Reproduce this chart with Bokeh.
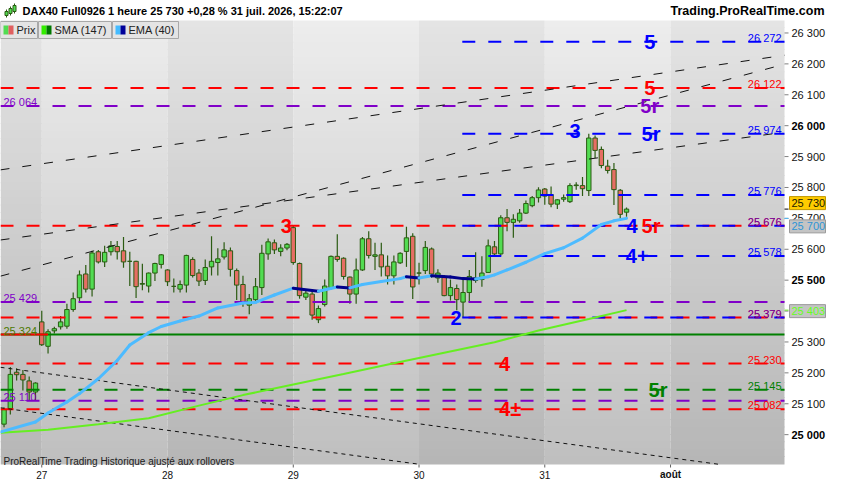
import numpy as np
from bokeh.plotting import figure
from bokeh.models import Range1d, ColumnDataSource
from bokeh.embed import file_html
from bokeh.resources import INLINE
from bokeh.core.properties import value

# ---------------- data ----------------
opens  = [25034,25083,25202,25195,25174,25138,25365,25286,25336,25349,
          25351,25405,25443,25520,25471,25592,25559,25592,25609,25595,
          25561,25561,25487,25481,25523,25551,25533,25480,25471,25484,
          25567,25523,25499,25543,25557,25575,25595,25531,25486,25419,
          25437,25476,25585,25621,25593,25604,25670,25554,25445,25455,
          25372,25421,25476,25577,25571,25510,25455,25533,25634,25577,
          25582,25545,25514,25556,25593,25642,25523,25531,25601,25507,
          25510,25450,25473,25429,25460,25499,25502,25525,25608,25585,
          25702,25687,25692,25717,25741,25767,25795,25777,25746,25762,
          25754,25806,25806,25790,25960,25923,25869,25858,25791,25720]
highs  = [25088,25219,25215,25209,25188,25170,25401,25341,25349,25384,
          25424,25460,25531,25549,25595,25598,25611,25627,25627,25640,
          25592,25563,25553,25525,25556,25585,25535,25505,25499,25582,
          25574,25536,25567,25642,25603,25623,25606,25538,25514,25455,
          25507,25615,25635,25632,25616,25620,25676,25557,25471,25471,
          25418,25502,25580,25649,25574,25512,25570,25640,25658,25621,
          25621,25580,25580,25590,25673,25652,25556,25627,25606,25535,
          25517,25502,25486,25502,25533,25590,25577,25632,25627,25710,
          25730,25713,25730,25758,25772,25801,25798,25803,25762,25777,
          25814,25817,25834,25974,25968,25933,25890,25879,25795,25735]
lows   = [25024,25065,25175,25143,25110,25111,25287,25263,25327,25340,
          25343,25398,25432,25460,25447,25554,25543,25580,25567,25540,
          25481,25442,25467,25460,25497,25538,25481,25460,25460,25460,
          25509,25481,25484,25515,25515,25567,25512,25436,25414,25390,
          25424,25452,25566,25585,25577,25597,25550,25440,25436,25372,
          25361,25415,25470,25560,25502,25424,25424,25530,25570,25533,
          25512,25486,25486,25552,25543,25439,25486,25520,25507,25492,
          25448,25434,25403,25379,25429,25492,25479,25523,25577,25580,
          25658,25637,25686,25714,25736,25751,25744,25736,25730,25754,
          25750,25793,25772,25772,25895,25862,25845,25743,25694,25705]
closes = [25081,25195,25194,25177,25138,25167,25291,25333,25343,25365,
          25405,25440,25517,25471,25588,25559,25590,25611,25592,25559,
          25561,25479,25489,25523,25554,25582,25495,25480,25486,25580,
          25515,25497,25541,25561,25569,25598,25535,25484,25427,25440,
          25479,25587,25624,25598,25604,25616,25557,25450,25458,25387,
          25408,25481,25577,25567,25512,25455,25533,25634,25580,25582,
          25543,25514,25559,25587,25637,25478,25523,25606,25520,25523,
          25450,25476,25437,25460,25512,25507,25523,25611,25585,25702,
          25687,25697,25717,25748,25767,25792,25772,25746,25760,25767,
          25806,25808,25796,25960,25920,25871,25855,25793,25713,25730]

day_ticks  = [6, 26, 46, 66, 86, 106]
day_labels = ["27", "28", "29", "30", "31", "août"]
price_ticks = [25000, 25100, 25200, 25300, 25400, 25500, 25600,
               25700, 25800, 25900, 26000, 26100, 26200, 26300]
bold_ticks = [25000, 25500, 26000]

sma_x = [-0.5, 7, 15, 23, 31, 38, 46, 54, 62, 70, 78, 85, 93, 99]
sma_y = [25006, 25016, 25034, 25053, 25094, 25128, 25162, 25196, 25231,
         25265, 25299, 25337, 25374, 25403]

ema_x = [-0.5, 5, 7, 10, 12, 15, 18, 20, 23, 25, 28, 31, 34, 38, 40, 43, 46,
         50, 53, 55, 57, 60, 63, 64, 66, 68, 71, 73, 75, 77, 78, 80, 83, 86,
         89, 92, 95, 97, 99]
ema_y = [25009, 25041, 25070, 25106, 25133, 25181, 25240, 25290, 25330, 25350,
         25368, 25384, 25410, 25426, 25428, 25452, 25474, 25464, 25478, 25475,
         25486, 25496, 25505, 25511, 25507, 25514, 25510, 25505, 25504, 25511,
         25517, 25533, 25558, 25586, 25605, 25636, 25680, 25692, 25700]

blue_levels   = [26272, 25974, 25776, 25676, 25578, 25379]
red_levels    = [26122, 25676, 25379, 25230, 25082]
purple_levels = [26064, 25429, 25110]
green_levels  = [25145]
support_level = 25324
gap_end_index = 7
pivot_low_index = 73

# dashed trend lines: start (index, value) -> end (index, value)
trend_x0 = [-0.5625, -0.5625, -0.5625, -0.5625, -0.5625]
trend_v0 = [25857, 25513, 25630, 25218, 25087]
trend_x1 = [124.125, 124.125, 124.125, 113.7, 66.1]
trend_v1 = [26228, 26199, 25979, 24904, 24904]
trend_kind = ["long", "long", "long", "short", "short"]

proj_text  = ["5", "5", "5r", "5r", "4", "5r", "4+", "4", "4±", "5r", "3", "2", "3"]
proj_level = [26272, 26122, 26064, 25974, 25676, 25676, 25578, 25230, 25082, 25145,
              25982, 25377, 25675]
proj_x     = [102.7, 102.7, 102.7, 102.9, 99.9, 102.9, 100.7, 79.6, 80.5, 104.0,
              90.8, 71.9, 44.9]
proj_kind  = ["blue", "red", "purple", "blue", "blue", "red", "blue", "red", "red",
              "green", "blue", "blue", "red"]

last_price = 25730
ema_last = 25700
sma_last = 25403

# ---------------- styles / layout ----------------
FONT = "Liberation Sans"
BLUE, RED, PURPLE, GREEN = "#0000ff", "#ff0000", "#8000c8", "#008000"
KIND = {"blue": BLUE, "red": RED, "purple": PURPLE, "green": GREEN}
BULL, BEAR, WICK = "#52dc52", "#e66e64", "#2b5b12"
EMA_LIGHT, EMA_DARK = "#4dbbff", "#00008b"
SMA_COL = "#66ee22"

TOP_H, BOT_H = 20, 20
W_FRAME, H_FRAME = 784, 444          # price area
RIGHT_W = 50                          # price-scale column
W = W_FRAME + RIGHT_W
H = TOP_H + H_FRAME + BOT_H
X_MIN, X_MAX = -0.5625, 124.125
Y_MIN, Y_MAX = 24903.4, 26340.4
PPX = W_FRAME / (X_MAX - X_MIN)
PPV = H_FRAME / (Y_MAX - Y_MIN)
Y_TOP = Y_MAX + TOP_H / PPV

def fx(px):            # canvas px from the left -> data x
    return X_MIN + px / PPX

def fy(py):            # canvas px from the top -> data y
    return Y_TOP - py / PPV

def fmt(v):
    return f"{v:,}".replace(",", " ")

p = figure(width=W, height=H,
           x_range=Range1d(X_MIN, X_MAX + RIGHT_W / PPX),
           y_range=Range1d(Y_MIN - BOT_H / PPV, Y_TOP),
           x_axis_location=None, y_axis_location=None,
           output_backend="svg", toolbar_location=None, min_border=0)
p.grid.visible = False
p.outline_line_color = None
p.background_fill_color = "white"
p.border_fill_color = "white"

def add_text(xs, ys, texts, color, align, size="11px", bold=False, alpha=1.0, baseline="alphabetic"):
    p.text(x=xs, y=ys, text=texts, text_color=color, text_alpha=alpha,
           text_font=value(FONT), text_font_size=value(size),
           text_font_style=value("bold" if bold else "normal"),
           text_align=value(align), text_baseline=value(baseline))

# background of the price area: vertical gradient, alternating day bands
n_str = 60
edges = np.linspace(Y_MAX, Y_MIN, n_str + 1)
bounds = [X_MIN] + day_ticks + [X_MAX]
bl, br, bt, bb, bc = [], [], [], [], []
for j in range(n_str):
    t = (j + 0.5) / n_str
    g = 228 - 46 * t
    for b in range(len(bounds) - 1):
        gg = int(round(g + (9 if b % 2 == 1 else 0)))
        bl.append(bounds[b]); br.append(bounds[b + 1])
        bt.append(min(edges[j] + 1.0 / PPV, Y_MAX)); bb.append(edges[j + 1])
        bc.append("#%02x%02x%02x" % (gg, gg, gg))
p.quad(left=bl, right=br, top=bt, bottom=bb, fill_color=bc, line_color=None)

# candles
idx = np.arange(len(opens))
o = np.array(opens); c = np.array(closes)
src = ColumnDataSource(dict(
    x=idx, top=np.maximum(o, c), bottom=np.minimum(o, c),
    high=highs, low=lows, color=np.where(c >= o, BULL, BEAR)))
p.segment(x0="x", y0="high", x1="x", y1="low", source=src, line_color=WICK, line_width=1.2)
p.vbar(x="x", width=0.7, top="top", bottom="bottom", fill_color="color",
       line_color=WICK, line_width=1, source=src)

# horizontal levels
DASH = "13 13"
for lv in red_levels:
    p.segment(x0=[X_MIN], y0=[lv], x1=[X_MAX], y1=[lv], line_color=RED, line_width=2, line_dash=DASH)
for lv in purple_levels:
    p.segment(x0=[X_MIN], y0=[lv], x1=[X_MAX], y1=[lv], line_color=PURPLE, line_width=2, line_dash=DASH)
for lv in green_levels:
    p.segment(x0=[X_MIN], y0=[lv], x1=[X_MAX], y1=[lv], line_color=GREEN, line_width=2, line_dash=DASH)
p.segment(x0=[X_MIN], y0=[support_level], x1=[X_MAX], y1=[support_level], line_color=GREEN, line_width=2)
p.segment(x0=[X_MIN], y0=[support_level], x1=[gap_end_index], y1=[support_level], line_color=RED, line_width=2)
blue_start = pivot_low_index - 0.12
for lv in blue_levels:
    p.segment(x0=[blue_start], y0=[lv], x1=[X_MAX], y1=[lv], line_color=BLUE, line_width=2, line_dash=DASH)

# trend lines
for x0, v0, x1, v1, k in zip(trend_x0, trend_v0, trend_x1, trend_v1, trend_kind):
    p.segment(x0=[x0], y0=[v0], x1=[x1], y1=[v1], line_color="#111111", line_width=1,
              line_dash="9 13" if k == "long" else "4 4")

# SMA & EMA
p.line(sma_x, sma_y, line_color=SMA_COL, line_width=2)
ema_col = [EMA_DARK if ema_y[k + 1] < ema_y[k] else EMA_LIGHT for k in range(len(ema_y) - 1)]
p.segment(x0=ema_x[:-1], y0=ema_y[:-1], x1=ema_x[1:], y1=ema_y[1:],
          line_color=ema_col, line_width=3, line_cap="round")

# level labels
xr = X_MAX - 3 / PPX
xl = X_MIN + 3 / PPX
up = 4 / PPV
add_text([xr] * len(red_levels), [v + up for v in red_levels], [fmt(v) for v in red_levels], RED, "right")
add_text([xr] * len(green_levels), [v + up for v in green_levels], [fmt(v) for v in green_levels], GREEN, "right")
for v in blue_levels:
    add_text([xr], [v + up], [fmt(v)], BLUE, "right", alpha=0.6 if v in red_levels else 1.0)
add_text([xl] * len(purple_levels), [v + up for v in purple_levels], [fmt(v) for v in purple_levels], PURPLE, "left")
add_text([xl], [support_level + up], [fmt(support_level)], "#4d7a00", "left")

# projection labels
for t, lv, x, k in zip(proj_text, proj_level, proj_x, proj_kind):
    add_text([x], [lv], [t], KIND[k], "center", size="20px", bold=True, baseline="middle")

# footer note inside the price area
add_text([xl], [Y_MIN + 3 / PPV], ["ProRealTime Trading  Historique ajusté aux rollovers"],
         "#202020", "left", size="10px")

# legend boxes (top-left of the price area)
leg_boxes = [(0, 37), (38, 111), (112, 178)]
leg_text = ["Prix", "SMA (147)", "EMA (40)"]
leg_sw = [(BULL, "#e06060"), ("#33ee00", "#007700"), ("#44bbff", "#000099")]
p.quad(left=[fx(a) for a, b in leg_boxes], right=[fx(b) for a, b in leg_boxes],
       top=[fy(TOP_H + 1)] * 3, bottom=[fy(TOP_H + 18)] * 3, fill_color="#e4e4e4", line_color="#a8a8a8")
for (a, b), t, (c1, c2) in zip(leg_boxes, leg_text, leg_sw):
    p.quad(left=[fx(a + 3)], right=[fx(a + 8)], top=[fy(TOP_H + 5)], bottom=[fy(TOP_H + 14)],
           fill_color=c1, line_color=None)
    p.quad(left=[fx(a + 8)], right=[fx(a + 13)], top=[fy(TOP_H + 5)], bottom=[fy(TOP_H + 14)],
           fill_color=c2, line_color=None)
    add_text([fx(a + 16)], [fy(TOP_H + 9.5)], [t], "#222222", "left", baseline="middle")

# ---------------- price scale (right) ----------------
tick_x0 = X_MAX
tick_x1 = X_MAX + 4 / PPX
p.segment(x0=[tick_x0] * len(price_ticks), y0=price_ticks, x1=[tick_x1] * len(price_ticks),
          y1=price_ticks, line_color="#808080", line_width=1)
normal_ticks = [v for v in price_ticks if v not in bold_ticks]
add_text([X_MAX + 7 / PPX] * len(normal_ticks), normal_ticks, [fmt(v) for v in normal_ticks],
         "#111111", "left", baseline="middle")
add_text([X_MAX + 7 / PPX] * len(bold_ticks), bold_ticks, [fmt(v) for v in bold_ticks],
         "#000000", "left", bold=True, baseline="middle")

def axis_box(v, shift_px, bg, border, color, tick_color):
    yc = v - shift_px / PPV
    p.segment(x0=[tick_x0], y0=[v], x1=[tick_x1], y1=[v], line_color=tick_color, line_width=1)
    p.quad(left=[X_MAX + 5 / PPX], right=[X_MAX + 41 / PPX], top=[yc + 6.5 / PPV], bottom=[yc - 6.5 / PPV],
           fill_color=bg, line_color=border)
    add_text([X_MAX + 7 / PPX], [yc], [fmt(v)], color, "left", baseline="middle")

axis_box(last_price, -6, "#ffcc00", "#c09800", "#1a1a00", "#000000")
axis_box(ema_last, 8, "#c4c4c4", "#9a9a9a", "#2f94d6", EMA_LIGHT)
axis_box(sma_last, 1, "#c4c4c4", "#9a9a9a", "#66ff22", SMA_COL)

# ---------------- time scale (bottom) ----------------
p.segment(x0=day_ticks, y0=[Y_MIN] * len(day_ticks), x1=day_ticks,
          y1=[Y_MIN - 3 / PPV] * len(day_ticks), line_color="#606060", line_width=1)
for d, l in zip(day_ticks, day_labels):
    add_text([d], [Y_MIN - 10 / PPV], [l], "#111111", "center", size="10px",
             bold=(l == "août"), baseline="middle")

# ---------------- header ----------------
p.segment(x0=[fx(6), fx(10), fx(14)], y0=[fy(9), fy(6), fy(3)],
          x1=[fx(6), fx(10), fx(14)], y1=[fy(17), fy(15), fy(13)], line_color=WICK, line_width=1)
p.quad(left=[fx(4.5), fx(8.5), fx(12.5)], right=[fx(7.5), fx(11.5), fx(15.5)],
       top=[fy(11), fy(8), fy(5)], bottom=[fy(15), fy(13), fy(11)],
       fill_color=BULL, line_color=WICK, line_width=1)
add_text([fx(22)], [fy(10.5)], ["DAX40 Full0926 1 heure 25 730 +0,28 % 31 juil. 2026, 15:22:07"],
         "#000000", "left", bold=True, baseline="middle")
add_text([fx(W - 10)], [fy(10.5)], ["Trading.ProRealTime.com"],
         "#000000", "right", size="12.5px", bold=True, baseline="middle")

open("out.html", "w").write(file_html(p, INLINE))
